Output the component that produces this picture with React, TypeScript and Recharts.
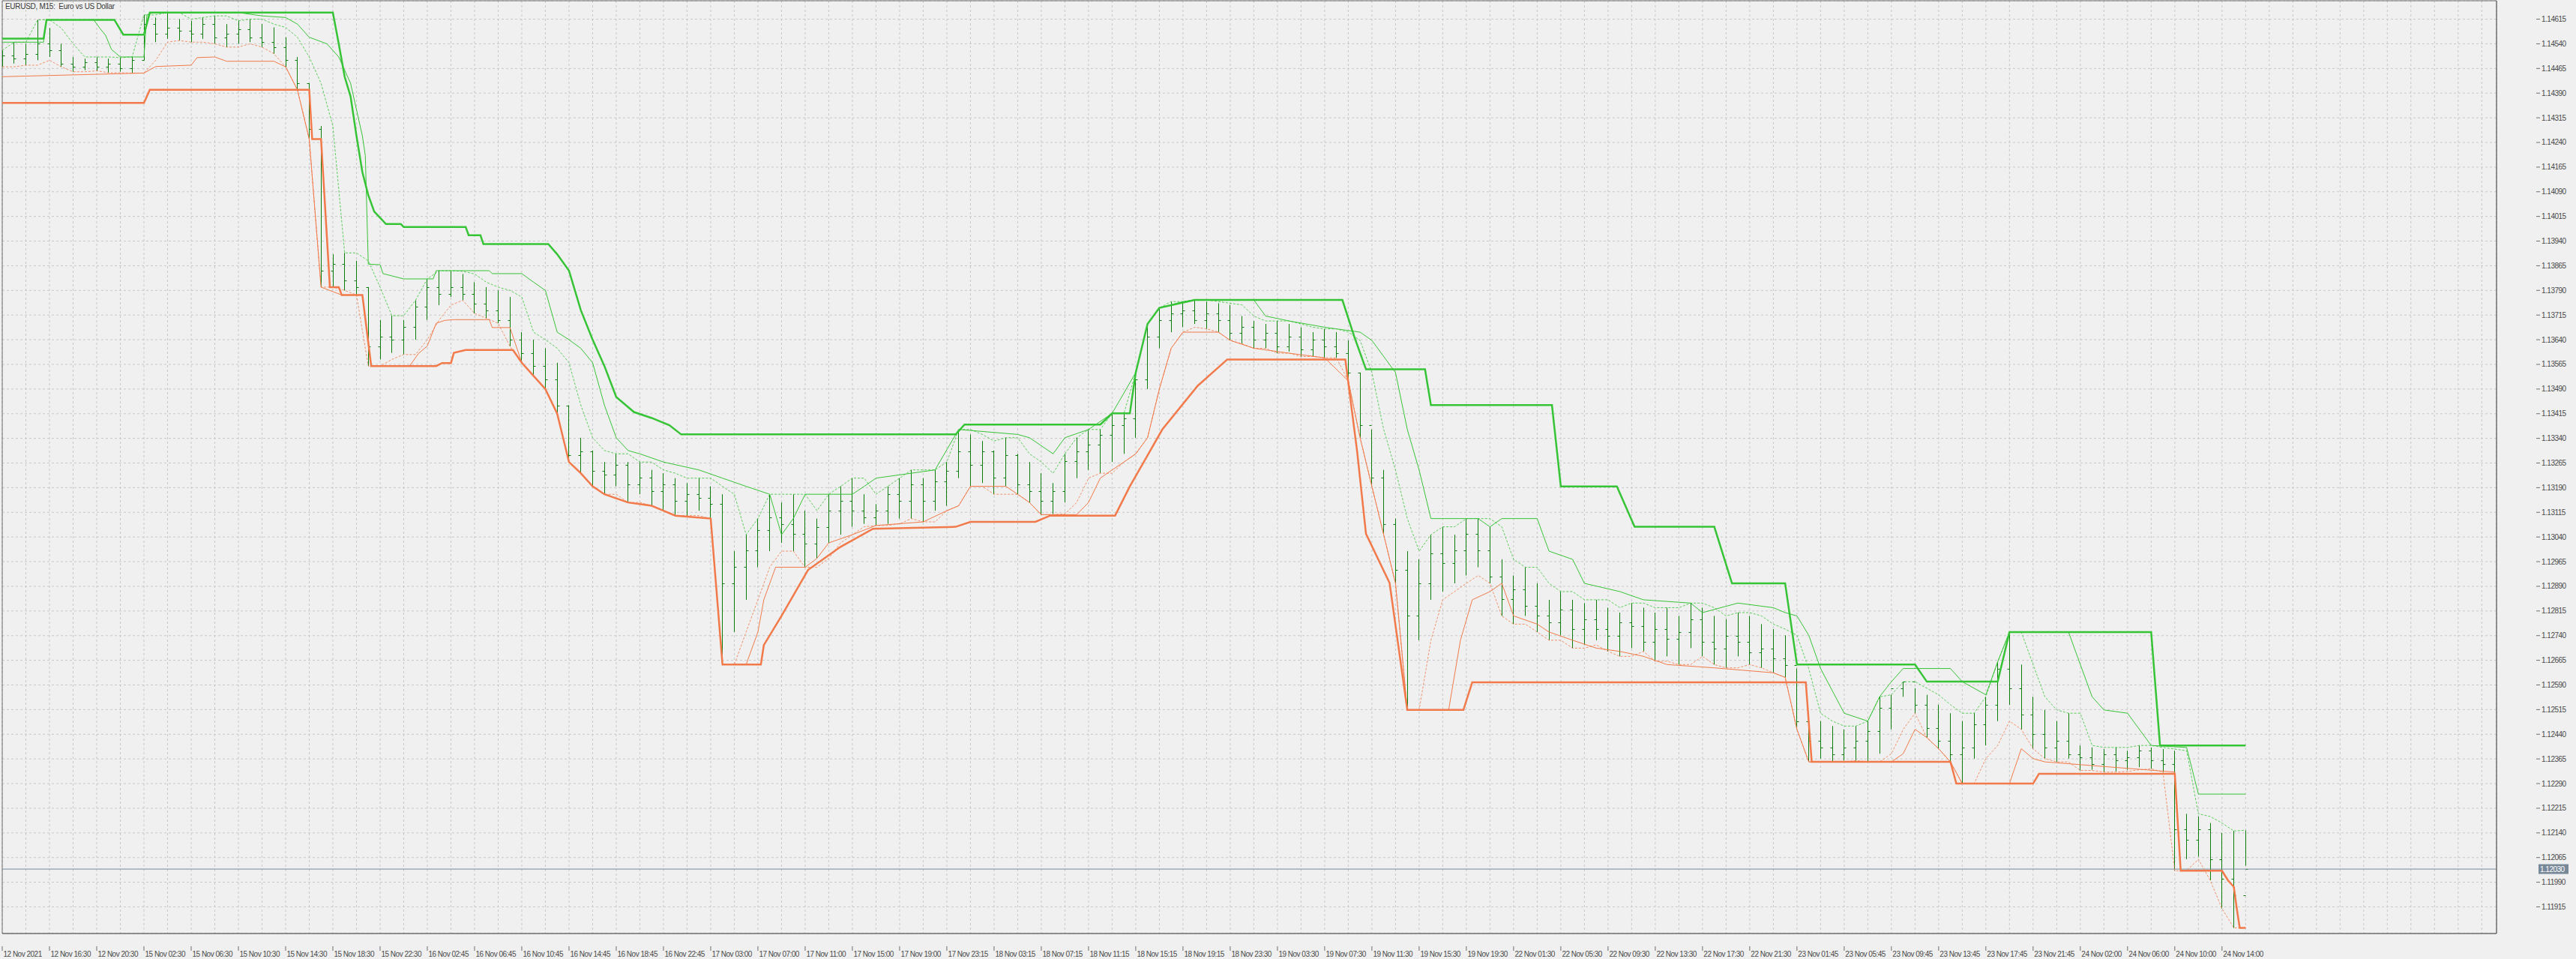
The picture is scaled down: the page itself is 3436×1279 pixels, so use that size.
import React from "react";
import {
  ComposedChart,
  Bar,
  Line,
  XAxis,
  YAxis,
  CartesianGrid,
  ReferenceLine,
  ReferenceArea,
} from "recharts";

const FONT = "'Liberation Sans', Arial, sans-serif";

// prices are kept in points above 1.10000 (1.14615 -> 4615)
const priceTicks = [
  4615, 4540, 4465, 4390, 4315, 4240, 4165, 4090, 4015, 3940, 3865, 3790, 3715,
  3640, 3565, 3490, 3415, 3340, 3265, 3190, 3115, 3040, 2965, 2890, 2815, 2740,
  2665, 2590, 2515, 2440, 2365, 2290, 2215, 2140, 2065, 1990, 1915,
];

const timeLabels = [
  "12 Nov 2021", "12 Nov 16:30", "12 Nov 20:30", "15 Nov 02:30", "15 Nov 06:30",
  "15 Nov 10:30", "15 Nov 14:30", "15 Nov 18:30", "15 Nov 22:30", "16 Nov 02:45",
  "16 Nov 06:45", "16 Nov 10:45", "16 Nov 14:45", "16 Nov 18:45", "16 Nov 22:45",
  "17 Nov 03:00", "17 Nov 07:00", "17 Nov 11:00", "17 Nov 15:00", "17 Nov 19:00",
  "17 Nov 23:15", "18 Nov 03:15", "18 Nov 07:15", "18 Nov 11:15", "18 Nov 15:15",
  "18 Nov 19:15", "18 Nov 23:30", "19 Nov 03:30", "19 Nov 07:30", "19 Nov 11:30",
  "19 Nov 15:30", "19 Nov 19:30", "22 Nov 01:30", "22 Nov 05:30", "22 Nov 09:30",
  "22 Nov 13:30", "22 Nov 17:30", "22 Nov 21:30", "23 Nov 01:45", "23 Nov 05:45",
  "23 Nov 09:45", "23 Nov 13:45", "23 Nov 17:45", "23 Nov 21:45", "24 Nov 02:00",
  "24 Nov 06:00", "24 Nov 10:00", "24 Nov 14:00",
];

// hourly bars (4 x M15)
const barHigh = [
  4520, 4545, 4540, 4613, 4588, 4540, 4500, 4495, 4500, 4495, 4498, 4500, 4628, 4620, 4635, 4615,
  4610, 4620, 4625, 4600, 4610, 4615, 4600, 4590, 4560, 4500, 4420, 4290, 3900, 3904, 3880, 3800,
  3700, 3713, 3700, 3760, 3825, 3850, 3848, 3840, 3815, 3800, 3790, 3770, 3663, 3640, 3614, 3570,
  3441, 3342, 3303, 3268, 3293, 3268, 3268, 3244, 3234, 3219, 3204, 3219, 3194, 3170, 2997, 3047,
  3096, 3170, 3145, 3170, 3120, 3096, 3170, 3194, 3219, 3170, 3140, 3194, 3219, 3244, 3219, 3244,
  3268, 3367, 3352, 3332, 3303, 3342, 3293, 3268, 3234, 3204, 3293, 3342, 3367, 3367, 3416, 3416,
  3540, 3688, 3737, 3756, 3756, 3761, 3756, 3751, 3746, 3712, 3697, 3688, 3697, 3688, 3678, 3663,
  3673, 3663, 3638, 3540, 3367, 3244, 3096, 2997, 2972, 3047, 3071, 3047, 3096, 3096, 3071, 2972,
  2923, 2948, 2899, 2849, 2874, 2849, 2839, 2849, 2825, 2810, 2839, 2825, 2810, 2825, 2800, 2839,
  2825, 2800, 2790, 2810, 2800, 2775, 2760, 2741, 2640, 2504, 2480, 2465, 2455, 2465, 2480, 2554,
  2560, 2600, 2580, 2560, 2530, 2504, 2480, 2504, 2554, 2660, 2751, 2652, 2554, 2514, 2480, 2504,
  2406, 2400, 2395, 2400, 2390, 2406, 2400, 2395, 2390, 2198, 2190, 2170, 2140, 2146, 2148,
];
const barLow = [
  4470, 4480, 4475, 4490, 4500, 4470, 4455, 4460, 4458, 4452, 4455, 4451, 4490, 4545, 4555, 4550,
  4545, 4555, 4540, 4530, 4540, 4545, 4530, 4510, 4470, 4400, 4250, 3800, 3800, 3790, 3776, 3560,
  3580, 3600, 3595, 3640, 3700, 3745, 3770, 3760, 3720, 3705, 3690, 3620, 3570, 3530, 3490, 3415,
  3268, 3234, 3194, 3170, 3194, 3145, 3170, 3135, 3120, 3105, 3105, 3120, 3096, 2652, 2751, 2849,
  2948, 2997, 3022, 2997, 2948, 2975, 3022, 3047, 3071, 3080, 3075, 3080, 3096, 3096, 3086, 3120,
  3135, 3219, 3194, 3204, 3170, 3194, 3170, 3145, 3108, 3110, 3145, 3219, 3244, 3234, 3268, 3293,
  3342, 3490, 3614, 3663, 3678, 3688, 3673, 3663, 3638, 3628, 3614, 3614, 3599, 3604, 3589, 3589,
  3585, 3585, 3515, 3342, 3194, 3047, 2899, 2514, 2726, 2849, 2874, 2899, 2923, 2948, 2899, 2800,
  2775, 2800, 2751, 2726, 2741, 2702, 2712, 2726, 2692, 2677, 2702, 2692, 2662, 2677, 2652, 2702,
  2677, 2652, 2642, 2677, 2652, 2642, 2627, 2613, 2455, 2356, 2366, 2356, 2360, 2360, 2356, 2381,
  2455, 2554, 2504, 2430, 2396, 2356, 2290, 2366, 2406, 2480, 2529, 2455, 2396, 2366, 2356, 2366,
  2330, 2332, 2325, 2327, 2332, 2340, 2335, 2325, 2025, 2060, 2068, 1996, 1910, 1851, 2040,
];
const barOpen = [
  4490, 4505, 4495, 4510, 4540, 4520, 4480, 4470, 4485, 4470, 4480, 4465, 4490, 4600, 4570, 4590,
  4580, 4570, 4600, 4560, 4570, 4585, 4560, 4545, 4530, 4490, 4420, 4280, 3850, 3870, 3820, 3800,
  3620, 3650, 3640, 3680, 3740, 3800, 3780, 3800, 3780, 3750, 3730, 3700, 3640, 3600, 3560, 3520,
  3440, 3290, 3300, 3240, 3230, 3260, 3200, 3220, 3180, 3200, 3150, 3170, 3160, 3140, 2900, 2950,
  3000, 3060, 3100, 3080, 3050, 3020, 3070, 3120, 3150, 3120, 3100, 3120, 3170, 3150, 3200, 3150,
  3210, 3240, 3300, 3260, 3300, 3220, 3290, 3200, 3180, 3150, 3180, 3270, 3300, 3320, 3350, 3380,
  3400, 3520, 3650, 3700, 3720, 3730, 3700, 3720, 3700, 3660, 3680, 3640, 3660, 3620, 3650, 3610,
  3640, 3620, 3600, 3540, 3380, 3220, 3080, 2940, 2800, 2900, 2990, 2960, 3000, 3050, 3000, 2920,
  2850, 2880, 2830, 2800, 2780, 2820, 2760, 2790, 2760, 2740, 2780, 2770, 2720, 2760, 2730, 2750,
  2790, 2720, 2700, 2740, 2720, 2690, 2700, 2670, 2650, 2480, 2420, 2400, 2380, 2400, 2420, 2450,
  2520, 2580, 2600, 2530, 2460, 2420, 2380, 2400, 2470, 2530, 2640, 2580, 2500, 2440, 2400, 2420,
  2380, 2370, 2350, 2380, 2360, 2370, 2390, 2360, 2350, 2150, 2120, 2150, 2060, 2000, 1950,
];
const barClose = [
  4505, 4495, 4510, 4540, 4520, 4480, 4470, 4485, 4470, 4480, 4465, 4490, 4600, 4570, 4590, 4580,
  4570, 4600, 4560, 4570, 4585, 4560, 4545, 4530, 4490, 4420, 4280, 3850, 3870, 3820, 3800, 3620,
  3650, 3640, 3680, 3740, 3800, 3780, 3800, 3780, 3750, 3730, 3700, 3640, 3600, 3560, 3520, 3440,
  3290, 3300, 3240, 3230, 3260, 3200, 3220, 3180, 3200, 3150, 3170, 3160, 3140, 2900, 2950, 3000,
  3060, 3100, 3080, 3050, 3020, 3070, 3120, 3150, 3120, 3100, 3120, 3170, 3150, 3200, 3150, 3210,
  3240, 3300, 3260, 3300, 3220, 3290, 3200, 3180, 3150, 3180, 3270, 3300, 3320, 3350, 3380, 3400,
  3520, 3650, 3700, 3720, 3730, 3700, 3720, 3700, 3660, 3680, 3640, 3660, 3620, 3650, 3610, 3640,
  3620, 3600, 3540, 3380, 3220, 3080, 2940, 2800, 2900, 2990, 2960, 3000, 3050, 3000, 2920, 2850,
  2880, 2830, 2800, 2780, 2820, 2760, 2790, 2760, 2740, 2780, 2770, 2720, 2760, 2730, 2750, 2790,
  2720, 2700, 2740, 2720, 2690, 2700, 2670, 2650, 2480, 2420, 2400, 2380, 2400, 2420, 2450, 2520,
  2580, 2600, 2530, 2460, 2420, 2380, 2400, 2470, 2530, 2640, 2580, 2500, 2440, 2400, 2420, 2380,
  2370, 2350, 2380, 2360, 2370, 2390, 2360, 2350, 2150, 2120, 2150, 2060, 2000, 1950, 2030,
];

// dotted short channel, one value per hourly bar
const shortHigh = [
  4520, 4545, 4545, 4613, 4613, 4588, 4540, 4500, 4500, 4500, 4498, 4500, 4628, 4628, 4635, 4635,
  4615, 4620, 4625, 4625, 4610, 4615, 4615, 4600, 4590, 4560, 4500, 4420, 4290, 3904, 3904, 3880,
  3800, 3713, 3713, 3760, 3825, 3850, 3850, 3848, 3840, 3815, 3800, 3790, 3770, 3663, 3640, 3614,
  3570, 3441, 3342, 3303, 3293, 3293, 3268, 3268, 3244, 3234, 3219, 3219, 3219, 3194, 3170, 3047,
  3096, 3170, 3170, 3170, 3170, 3120, 3170, 3194, 3219, 3219, 3170, 3194, 3219, 3244, 3244, 3244,
  3268, 3367, 3367, 3352, 3332, 3342, 3342, 3293, 3268, 3234, 3293, 3342, 3367, 3367, 3416, 3416,
  3540, 3688, 3737, 3756, 3756, 3761, 3761, 3756, 3751, 3746, 3712, 3697, 3697, 3697, 3688, 3678,
  3673, 3673, 3663, 3638, 3540, 3367, 3244, 3096, 2997, 3047, 3071, 3071, 3096, 3096, 3096, 3071,
  2972, 2948, 2948, 2899, 2874, 2874, 2849, 2849, 2849, 2825, 2839, 2839, 2825, 2825, 2825, 2839,
  2839, 2825, 2800, 2810, 2810, 2800, 2775, 2760, 2741, 2640, 2504, 2480, 2465, 2465, 2480, 2554,
  2560, 2600, 2600, 2580, 2560, 2530, 2504, 2504, 2554, 2660, 2751, 2751, 2652, 2554, 2514, 2504,
  2504, 2406, 2400, 2400, 2400, 2406, 2406, 2400, 2395, 2390, 2198, 2190, 2170, 2146, 2148,
];
const shortLow = [
  4470, 4470, 4475, 4475, 4490, 4470, 4455, 4455, 4458, 4452, 4452, 4451, 4451, 4490, 4545, 4550,
  4545, 4545, 4540, 4530, 4530, 4540, 4530, 4510, 4470, 4400, 4250, 3800, 3800, 3790, 3776, 3560,
  3560, 3580, 3595, 3595, 3640, 3700, 3745, 3760, 3720, 3705, 3690, 3620, 3570, 3530, 3490, 3415,
  3268, 3234, 3194, 3170, 3170, 3145, 3145, 3135, 3120, 3105, 3105, 3105, 3096, 2652, 2652, 2751,
  2849, 2948, 2997, 2997, 2948, 2948, 2975, 3022, 3047, 3071, 3075, 3075, 3080, 3096, 3086, 3086,
  3120, 3135, 3194, 3194, 3170, 3170, 3170, 3145, 3108, 3108, 3110, 3145, 3219, 3234, 3234, 3268,
  3293, 3342, 3490, 3614, 3663, 3678, 3673, 3663, 3638, 3628, 3614, 3614, 3599, 3599, 3589, 3589,
  3585, 3585, 3515, 3342, 3194, 3047, 2899, 2514, 2514, 2726, 2849, 2874, 2899, 2923, 2899, 2800,
  2775, 2775, 2751, 2726, 2726, 2702, 2702, 2712, 2692, 2677, 2677, 2692, 2662, 2662, 2652, 2652,
  2677, 2652, 2642, 2642, 2652, 2642, 2627, 2613, 2455, 2356, 2356, 2356, 2356, 2360, 2356, 2356,
  2381, 2455, 2504, 2430, 2396, 2356, 2290, 2290, 2366, 2406, 2480, 2455, 2396, 2366, 2356, 2356,
  2330, 2330, 2325, 2325, 2327, 2332, 2335, 2325, 2025, 2025, 2060, 1996, 1910, 1851, 1851,
];

// channel lines as [M15 bar index, points] break points
const upperLong = [
  [0, 4556], [14, 4556], [15, 4613], [38, 4613], [41, 4568], [48, 4568], [50, 4635], [112, 4635],
  [114, 4540], [116, 4440], [118, 4380], [120, 4260], [122, 4150], [124, 4080], [126, 4030],
  [130, 3992], [135, 3992], [136, 3983], [157, 3983], [158, 3958], [162, 3958], [163, 3931],
  [185, 3931], [188, 3900], [192, 3850], [196, 3730], [200, 3640], [204, 3560], [208, 3466],
  [214, 3420], [220, 3402], [226, 3380], [230, 3352], [323, 3352], [326, 3382], [372, 3382],
  [376, 3416], [382, 3416], [384, 3540], [388, 3688], [392, 3737], [404, 3761], [454, 3761],
  [458, 3650], [462, 3550], [482, 3550], [484, 3441], [525, 3441], [528, 3194], [547, 3194],
  [553, 3071], [580, 3071], [586, 2899], [604, 2899], [608, 2652], [648, 2652], [652, 2600],
  [676, 2600], [680, 2751], [728, 2751], [731, 2406], [760, 2406],
];
const upperMid = [
  [0, 4545], [14, 4545], [15, 4613], [31, 4613], [33, 4588], [35, 4566], [37, 4523], [40, 4500],
  [48, 4500], [49, 4628], [51, 4635], [80, 4635], [88, 4625], [96, 4620], [100, 4600], [104, 4560],
  [110, 4540], [114, 4500], [118, 4420], [122, 4260], [123, 4200], [124, 3870], [128, 3868],
  [129, 3841], [136, 3825], [146, 3825], [147, 3850], [165, 3850], [166, 3841], [176, 3841],
  [180, 3815], [184, 3790], [188, 3663], [192, 3640], [196, 3614], [200, 3570], [204, 3441],
  [208, 3342], [212, 3303], [216, 3293], [224, 3268], [236, 3244], [244, 3219], [252, 3194],
  [260, 3170], [264, 3047], [268, 3096], [272, 3170], [288, 3170], [292, 3194], [296, 3219],
  [316, 3244], [324, 3367], [344, 3352], [348, 3342], [356, 3293], [360, 3342], [368, 3367],
  [376, 3416], [384, 3540], [388, 3688], [392, 3737], [400, 3756], [404, 3761], [424, 3761],
  [428, 3712], [436, 3697], [448, 3678], [452, 3673], [460, 3663], [464, 3638], [472, 3540],
  [476, 3367], [480, 3244], [484, 3096], [500, 3096], [504, 3071], [508, 3096], [520, 3096],
  [524, 2997], [532, 2972], [536, 2899], [548, 2874], [556, 2849], [572, 2839], [576, 2810],
  [588, 2839], [600, 2825], [604, 2810], [608, 2800], [612, 2741], [616, 2640], [624, 2504],
  [632, 2480], [636, 2554], [640, 2600], [644, 2640], [660, 2640], [664, 2600], [668, 2580],
  [672, 2560], [676, 2660], [680, 2751], [700, 2751], [704, 2652], [708, 2554], [712, 2514],
  [720, 2504], [728, 2406], [740, 2400], [744, 2258], [760, 2258],
];
const lowerLong = [
  [0, 4360], [48, 4360], [50, 4400], [104, 4400], [105, 4250], [108, 4250], [111, 3800],
  [114, 3800], [115, 3776], [122, 3776], [125, 3560], [147, 3560], [149, 3569], [152, 3569],
  [153, 3600], [157, 3609], [173, 3609], [176, 3570], [180, 3530], [184, 3490], [188, 3415],
  [192, 3268], [196, 3234], [200, 3194], [204, 3170], [212, 3145], [220, 3135], [224, 3120],
  [228, 3105], [240, 3096], [244, 2652], [257, 2652], [258, 2711], [264, 2800], [273, 2940],
  [284, 3010], [295, 3065], [323, 3071], [328, 3086], [350, 3086], [355, 3105], [377, 3105],
  [382, 3194], [393, 3367], [405, 3500], [415, 3580], [455, 3580], [459, 3300], [462, 3050],
  [470, 2900], [476, 2514], [495, 2514], [498, 2598], [611, 2598], [613, 2356], [660, 2356],
  [662, 2290], [688, 2290], [690, 2320], [736, 2320], [738, 2025], [752, 2025], [754, 1996],
  [756, 1976], [757, 1910], [758, 1851], [760, 1851],
];
const lowerMid = [
  [0, 4440], [48, 4451], [52, 4471], [64, 4475], [66, 4498], [72, 4500], [76, 4487], [92, 4487],
  [96, 4470], [100, 4400], [104, 4250], [108, 3800], [115, 3776], [122, 3776], [125, 3560],
  [138, 3560], [141, 3598], [144, 3621], [147, 3690], [150, 3699], [153, 3701], [165, 3701],
  [166, 3677], [172, 3677], [176, 3570], [180, 3530], [184, 3490], [188, 3415], [192, 3268],
  [196, 3234], [200, 3194], [204, 3170], [212, 3145], [220, 3135], [224, 3120], [228, 3105],
  [240, 3096], [244, 2652], [252, 2652], [256, 2751], [258, 2849], [262, 2948], [272, 2948],
  [276, 2975], [280, 3022], [288, 3047], [296, 3075], [312, 3086], [320, 3120], [324, 3135],
  [328, 3194], [340, 3194], [344, 3170], [348, 3145], [352, 3108], [364, 3108], [368, 3145],
  [372, 3219], [376, 3244], [380, 3268], [384, 3293], [388, 3342], [392, 3490], [396, 3614],
  [400, 3663], [412, 3663], [416, 3638], [424, 3614], [436, 3599], [448, 3585], [456, 3515],
  [460, 3342], [464, 3194], [468, 3047], [472, 2899], [476, 2514], [490, 2514], [494, 2726],
  [498, 2849], [504, 2874], [508, 2899], [512, 2800], [520, 2775], [524, 2751], [532, 2726],
  [540, 2702], [548, 2692], [556, 2677], [564, 2652], [580, 2642], [600, 2627], [604, 2613],
  [608, 2455], [612, 2356], [640, 2356], [644, 2381], [648, 2455], [652, 2430], [656, 2396],
  [660, 2356], [664, 2290], [680, 2290], [684, 2396], [688, 2366], [692, 2356], [736, 2325],
  [738, 2025], [752, 2025], [754, 1996], [756, 1976], [757, 1910], [758, 1851], [760, 1851],
];

const rows: any[] = [];
barHigh.forEach((h, n) => {
  rows.push({
    i: n * 4,
    o: barOpen[n],
    h,
    l: barLow[n],
    c: barClose[n],
    range: [barLow[n], h],
    upS: shortHigh[n],
    loS: shortLow[n],
  });
});
const addLine = (key: string, pts: number[][]) => {
  pts.forEach(([i, v]) => {
    const row = rows.find((r) => r.i === i);
    if (row) row[key] = v;
    else rows.push({ i, [key]: v });
  });
};
addLine("upL", upperLong);
addLine("upM", upperMid);
addLine("loL", lowerLong);
addLine("loM", lowerMid);
rows.sort((a, b) => a.i - b.i);

const GREEN = "#36c436";
const ORANGE = "#f27a4a";
const BARC = "#0b7d0b";
const AXIS = "#6e6e6e";
const TEXT = "#4a4a4a";

const OhlcShape = (props: any) => {
  const { x, y, width, height, payload } = props;
  if (!payload || payload.h == null) return null;
  const top = Math.min(y, y + height);
  const hh = Math.abs(height);
  const cx = Math.round(x + width / 2) + 0.5;
  const span = payload.h - payload.l;
  const k = span > 0 ? hh / span : 0;
  const oy = Math.round(top + (payload.h - payload.o) * k) + 0.5;
  const cy = Math.round(top + (payload.h - payload.c) * k) + 0.5;
  return (
    <g stroke={BARC} strokeWidth={1}>
      <line x1={cx} x2={cx} y1={top} y2={top + Math.max(hh, 1)} />
      <line x1={cx - 3} x2={cx} y1={oy} y2={oy} />
      <line x1={cx} x2={cx + 3} y1={cy} y2={cy} />
    </g>
  );
};

const TimeTick = (props: any) => {
  const { x, payload } = props;
  const v = payload.value;
  if (v % 16 !== 0) return null;
  const label = timeLabels[v / 16];
  if (!label) return null;
  return (
    <g>
      <line x1={x} x2={x} y1={1262} y2={1268} stroke={AXIS} />
      <text x={x + 1.5} y={1276} fill={TEXT} fontSize={10} fontFamily={FONT} letterSpacing={-0.5}>
        {label}
      </text>
    </g>
  );
};

const PriceTick = (props: any) => {
  const { y, payload } = props;
  return (
    <g>
      <line x1={3383} x2={3388} y1={y} y2={y} stroke={AXIS} />
      <text x={3390} y={y + 3.5} fill={TEXT} fontSize={10} fontFamily={FONT} letterSpacing={-0.5}>
        {(1.1 + payload.value / 100000).toFixed(5)}
      </text>
    </g>
  );
};

const LastPrice = (props: any) => {
  const vb = props.viewBox || {};
  const y = vb.y;
  return (
    <g>
      <rect x={3386} y={y - 6.5} width={40} height={13} fill="#778899" />
      <text x={3388} y={y + 3.5} fill="#ffffff" fontSize={10} fontFamily={FONT} letterSpacing={-0.5}>
        1.12030
      </text>
    </g>
  );
};

const gridX: number[] = [];
for (let t = 0; t <= 840; t += 8) gridX.push(t);

const lineProps = {
  dot: false,
  connectNulls: true,
  type: "linear" as const,
  isAnimationActive: false,
  activeDot: false,
};

export default function App() {
  return (
    <div style={{ position: "absolute", left: 0, top: 0, width: 3436, height: 1279, background: "#f0f0f0" }}>
      <ComposedChart
        width={3436}
        height={1279}
        data={rows}
        margin={{ top: 1, right: 53, left: 3, bottom: 17 }}
      >
        <CartesianGrid stroke="#c8c8c8" strokeDasharray="3 3" />
        <XAxis
          type="number"
          dataKey="i"
          domain={[0, 845]}
          ticks={gridX}
          interval={0}
          tick={<TimeTick />}
          tickLine={false}
          axisLine={{ stroke: AXIS }}
          height={17}
          allowDataOverflow
        />
        <YAxis
          orientation="right"
          type="number"
          domain={[1834, 4671]}
          ticks={priceTicks}
          interval={0}
          tick={<PriceTick />}
          tickLine={false}
          axisLine={{ stroke: AXIS }}
          width={53}
          allowDataOverflow
        />
        <ReferenceArea x1={0} x2={845} y1={1834} y2={4671} fill="none" stroke={AXIS} ifOverflow="extendDomain" />
        <ReferenceLine y={2030} stroke="#778899" label={<LastPrice />} />
        <Line dataKey="upS" stroke={GREEN} strokeWidth={1} strokeDasharray="3 2" strokeOpacity={0.8} {...lineProps} />
        <Line dataKey="loS" stroke={ORANGE} strokeWidth={1} strokeDasharray="3 2" strokeOpacity={0.8} {...lineProps} />
        <Bar dataKey="range" barSize={3} shape={<OhlcShape />} isAnimationActive={false} />
        <Line dataKey="upM" stroke={GREEN} strokeWidth={1} {...lineProps} />
        <Line dataKey="loM" stroke={ORANGE} strokeWidth={1} {...lineProps} />
        <Line dataKey="upL" stroke={GREEN} strokeWidth={2.5} {...lineProps} />
        <Line dataKey="loL" stroke={ORANGE} strokeWidth={2.5} {...lineProps} />
      </ComposedChart>
      <div
        style={{
          position: "absolute",
          left: 7,
          top: 3,
          fontFamily: FONT,
          fontSize: 10,
          letterSpacing: -0.3,
          color: "#3a3a3a",
          whiteSpace: "pre",
        }}
      >
        {"EURUSD, M15:  Euro vs US Dollar"}
      </div>
    </div>
  );
}
